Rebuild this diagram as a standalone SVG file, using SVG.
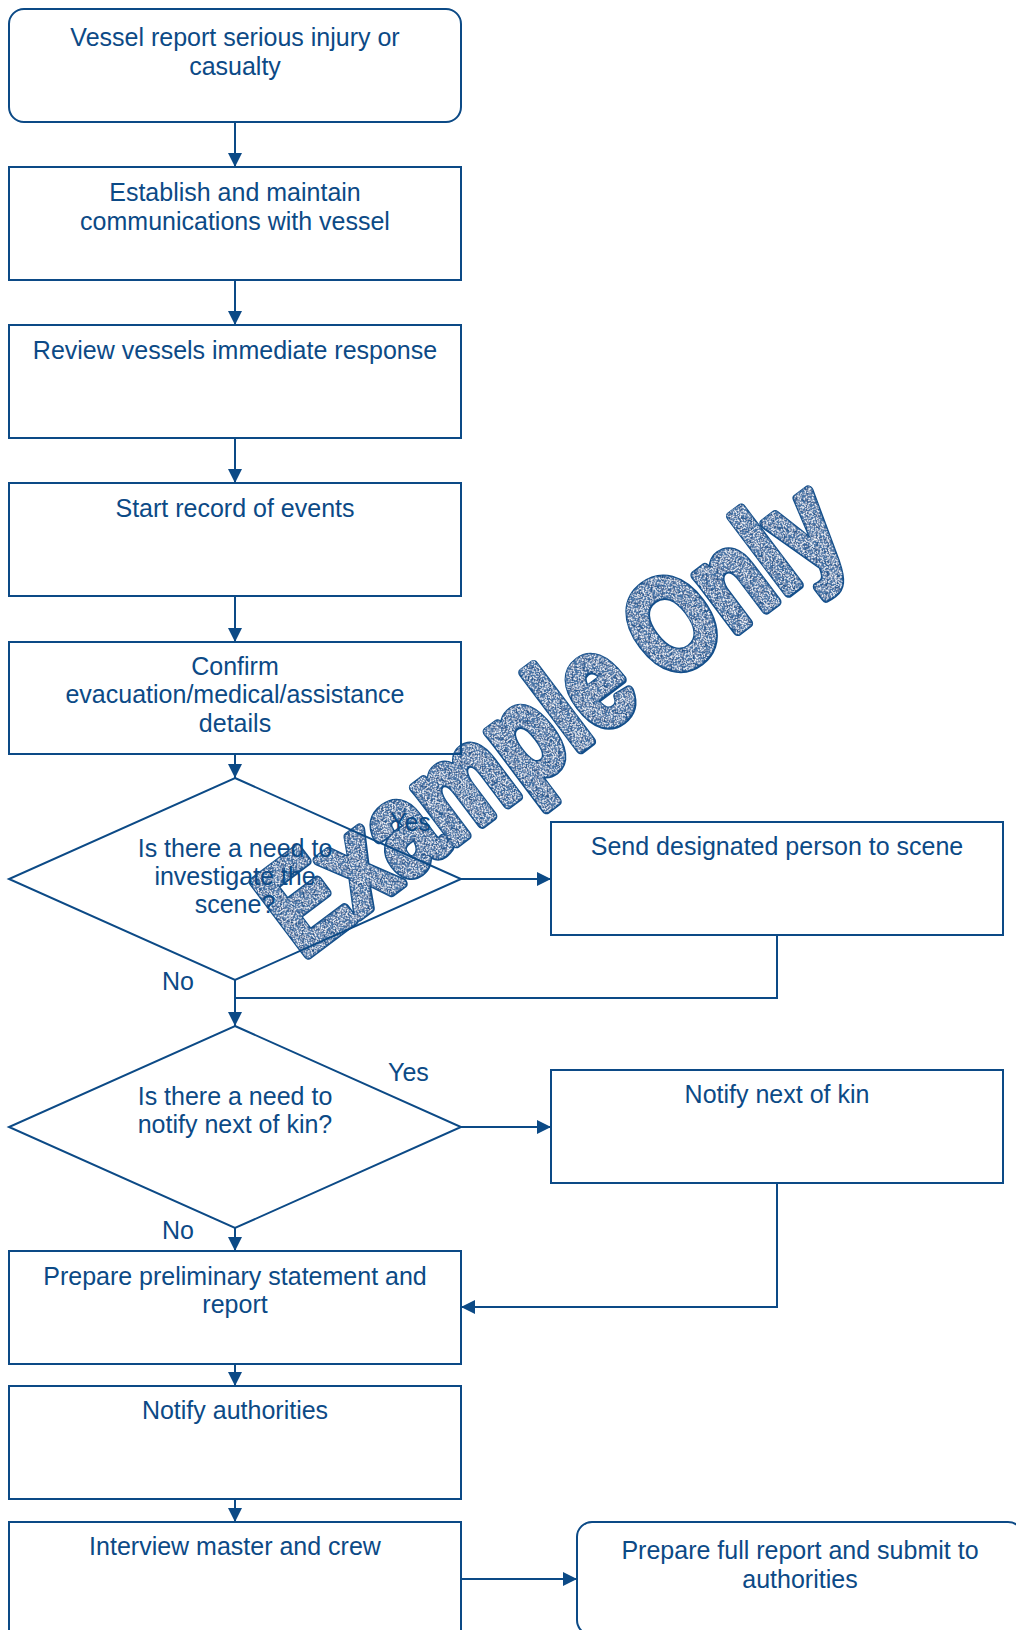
<svg xmlns="http://www.w3.org/2000/svg" width="1016" height="1630" viewBox="0 0 1016 1630">
  <style>
    .box { fill: none; stroke: #0C4A86; stroke-width: 2; }
    .edge { fill: none; stroke: #0C4A86; stroke-width: 2; }
    .lbl { font-family: "Liberation Sans", Arial, sans-serif; font-size: 25px; fill: #0C4A86; text-anchor: middle; }
    .tag { font-family: "Liberation Sans", Arial, sans-serif; font-size: 25px; fill: #0C4A86; }
    .wm { font-family: "Liberation Sans", Arial, sans-serif; font-weight: bold; font-size: 104px; stroke-linejoin: round; }
  </style>
  <defs>
    <marker id="arrow" markerUnits="userSpaceOnUse" markerWidth="14" markerHeight="14" refX="14" refY="7" orient="auto">
      <path d="M0,0 L14,7 L0,14 Z" fill="#0C4A86"/>
    </marker>
    <!-- cross-hatched blue ground for the watermark lettering -->
    <pattern id="hatch" patternUnits="userSpaceOnUse" width="14" height="14">
      <rect width="14" height="14" fill="#4573A6"/>
      <path d="M0,0 L14,14 M14,0 L0,14" stroke="#1A4F87" stroke-width="1"/>
    </pattern>
    <!-- light speckle grain over the hatch -->
    <filter id="grain" x="-5%" y="-5%" width="110%" height="110%">
      <feTurbulence type="fractalNoise" baseFrequency="0.9" numOctaves="1" seed="7" result="noise"/>
      <feColorMatrix in="noise" type="matrix" values="0 0 0 0 0.9  0 0 0 0 0.93  0 0 0 0 0.97  11 0 0 0 -5.7" result="spots"/>
      <feComposite in="spots" in2="SourceAlpha" operator="in" result="clipped"/>
      <feMerge>
        <feMergeNode in="SourceGraphic"/>
        <feMergeNode in="clipped"/>
      </feMerge>
    </filter>
  </defs>

  <!-- watermark: dark rim underneath, emboldened textured letters on top -->
  <g id="watermark" transform="translate(302,959) rotate(-37) scale(1,1.26)">
    <text class="wm" x="0" y="0" fill="#134E8A" stroke="#134E8A" stroke-width="8.5">Example Only</text>
    <text class="wm" x="0" y="0" fill="url(#hatch)" stroke="url(#hatch)" stroke-width="5.5" filter="url(#grain)">Example Only</text>
  </g>

  <!-- connectors -->
  <g id="connectors">
    <path class="edge" d="M235,122 V167" marker-end="url(#arrow)"/>
    <path class="edge" d="M235,280 V325" marker-end="url(#arrow)"/>
    <path class="edge" d="M235,438 V483" marker-end="url(#arrow)"/>
    <path class="edge" d="M235,596 V642" marker-end="url(#arrow)"/>
    <path class="edge" d="M235,754 V778" marker-end="url(#arrow)"/>
    <path class="edge" d="M461,879 H551" marker-end="url(#arrow)"/>
    <path class="edge" d="M777,935 V998 H235"/>
    <path class="edge" d="M235,980 V1026" marker-end="url(#arrow)"/>
    <path class="edge" d="M461,1127 H551" marker-end="url(#arrow)"/>
    <path class="edge" d="M777,1183 V1307 H461" marker-end="url(#arrow)"/>
    <path class="edge" d="M235,1228 V1251" marker-end="url(#arrow)"/>
    <path class="edge" d="M235,1364 V1386" marker-end="url(#arrow)"/>
    <path class="edge" d="M235,1499 V1522" marker-end="url(#arrow)"/>
    <path class="edge" d="M461,1579 H577" marker-end="url(#arrow)"/>
    <text class="tag" x="390" y="831">Yes</text>
    <text class="tag" x="162" y="990">No</text>
    <text class="tag" x="388" y="1081">Yes</text>
    <text class="tag" x="162" y="1239">No</text>
  </g>

  <!-- nodes -->
  <g id="report">
    <rect class="box" x="9" y="9" width="452" height="113" rx="15"/>
    <text class="lbl" x="235" y="46">Vessel report serious injury or</text>
    <text class="lbl" x="235" y="75">casualty</text>
  </g>
  <g id="communications">
    <rect class="box" x="9" y="167" width="452" height="113"/>
    <text class="lbl" x="235" y="201">Establish and maintain</text>
    <text class="lbl" x="235" y="230">communications with vessel</text>
  </g>
  <g id="review">
    <rect class="box" x="9" y="325" width="452" height="113"/>
    <text class="lbl" x="235" y="359">Review vessels immediate response</text>
  </g>
  <g id="record">
    <rect class="box" x="9" y="483" width="452" height="113"/>
    <text class="lbl" x="235" y="517">Start record of events</text>
  </g>
  <g id="confirm">
    <rect class="box" x="9" y="642" width="452" height="112"/>
    <text class="lbl" x="235" y="675">Confirm</text>
    <text class="lbl" x="235" y="703">evacuation/medical/assistance</text>
    <text class="lbl" x="235" y="732">details</text>
  </g>
  <g id="investigate">
    <polygon class="box" points="235,778 461,879 235,980 9,879"/>
    <text class="lbl" x="235" y="857">Is there a need to</text>
    <text class="lbl" x="235" y="885">investigate the</text>
    <text class="lbl" x="235" y="913">scene?</text>
  </g>
  <g id="send">
    <rect class="box" x="551" y="822" width="452" height="113"/>
    <text class="lbl" x="777" y="855">Send designated person to scene</text>
  </g>
  <g id="kin-decision">
    <polygon class="box" points="235,1026 461,1127 235,1228 9,1127"/>
    <text class="lbl" x="235" y="1105">Is there a need to</text>
    <text class="lbl" x="235" y="1133">notify next of kin?</text>
  </g>
  <g id="notify-kin">
    <rect class="box" x="551" y="1070" width="452" height="113"/>
    <text class="lbl" x="777" y="1103">Notify next of kin</text>
  </g>
  <g id="preliminary">
    <rect class="box" x="9" y="1251" width="452" height="113"/>
    <text class="lbl" x="235" y="1285">Prepare preliminary statement and</text>
    <text class="lbl" x="235" y="1313">report</text>
  </g>
  <g id="authorities">
    <rect class="box" x="9" y="1386" width="452" height="113"/>
    <text class="lbl" x="235" y="1419">Notify authorities</text>
  </g>
  <g id="interview">
    <rect class="box" x="9" y="1522" width="452" height="113"/>
    <text class="lbl" x="235" y="1555">Interview master and crew</text>
  </g>
  <g id="full-report">
    <rect class="box" x="577" y="1522" width="446" height="113" rx="15"/>
    <text class="lbl" x="800" y="1559">Prepare full report and submit to</text>
    <text class="lbl" x="800" y="1588">authorities</text>
  </g>
</svg>
